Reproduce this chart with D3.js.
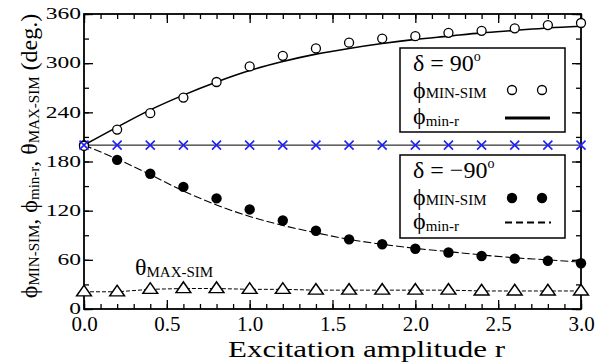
<!DOCTYPE html>
<html>
<head>
<meta charset="utf-8">
<script src="https://cdn.jsdelivr.net/npm/d3@7"></script>
<style>
  html, body { margin: 0; padding: 0; background: #fff; }
  svg { display: block; }
  text { font-family: "Liberation Serif", "Times New Roman", serif; fill: #000; }
</style>
</head>
<body>
<svg id="chart" width="608" height="364"></svg>
<script>
// Excitation amplitude r (sampled every 0.2)
const rValues = [0.0, 0.2, 0.4, 0.6, 0.8, 1.0, 1.2, 1.4, 1.6, 1.8, 2.0, 2.2, 2.4, 2.6, 2.8, 3.0];

// delta = 90 deg
const phiMinSimPos = [199, 219, 239, 258, 277, 296, 309, 318, 325, 330, 333, 337, 339.5, 342.5, 346.5, 349];
const phiMinRPos   = [200, 222, 243, 261, 277, 291, 302, 311, 318, 324, 329, 333, 337, 340, 343, 345];

// delta = -90 deg
const phiMinSimNeg = [200, 182, 165, 149, 135, 121.5, 108, 95.5, 85, 79, 73.5, 69, 64.7, 61.5, 58.8, 55.8];
const phiMinRNeg   = [200, 183, 164, 144, 127, 113, 102, 93, 85, 79, 74, 70, 66, 62.5, 60, 57];

// theta MAX-SIM
const thetaMaxSim  = [21, 21, 24, 25, 25, 24, 24, 23, 23, 23, 23, 23, 22, 22, 22, 22];

// reference crosses
const crossLevel = 200;

const xMajorTicks = [0, 0.5, 1.0, 1.5, 2.0, 2.5, 3.0];
const yMajorTicks = [0, 60, 120, 180, 240, 300, 360];

const PHI = "\u03D5";

const svg = d3.select("#chart");
const plotL = 84, plotR = 581, plotT = 14, plotB = 309;

const x = d3.scaleLinear().domain([0, 3]).range([plotL, plotR]);
const y = d3.scaleLinear().domain([0, 360]).range([plotB, plotT]);

const xMinor = d3.range(0, 31).map(d => d / 10);
const yMinor = d3.range(0, 13).map(d => d * 30);

// ---- axes with inward ticks ----
function styleAxis(g) {
  g.select(".domain").remove();
  g.selectAll(".tick line").attr("stroke", "#000").attr("stroke-width", 1.3);
}

svg.append("g").attr("transform", `translate(0,${plotB})`)
  .call(d3.axisBottom(x).tickValues(xMinor).tickSize(-5).tickFormat(""))
  .call(styleAxis);
svg.append("g").attr("transform", `translate(0,${plotB})`)
  .call(d3.axisBottom(x).tickValues(xMajorTicks).tickSize(-9).tickPadding(7).tickFormat(d3.format(".1f")))
  .call(styleAxis)
  .call(g => g.selectAll("text").attr("font-size", 21).attr("font-family", "Liberation Serif"));

svg.append("g").attr("transform", `translate(0,${plotT})`)
  .call(d3.axisTop(x).tickValues(xMinor).tickSize(-5).tickFormat(""))
  .call(styleAxis);
svg.append("g").attr("transform", `translate(0,${plotT})`)
  .call(d3.axisTop(x).tickValues(xMajorTicks).tickSize(-9).tickFormat(""))
  .call(styleAxis);

const ySx = 1.38;
svg.append("g").attr("transform", `translate(${plotL},0)`)
  .call(d3.axisLeft(y).tickValues(yMinor).tickSize(-5).tickFormat(""))
  .call(styleAxis);
svg.append("g").attr("transform", `translate(${plotL},0)`)
  .call(d3.axisLeft(y).tickValues(yMajorTicks).tickSize(-9).tickPadding(3).tickFormat(d3.format("d")))
  .call(styleAxis)
  .call(g => g.selectAll("text")
    .attr("font-size", 17).attr("font-family", "Liberation Serif")
    .attr("x", -3 / ySx).attr("dy", "0.28em")
    .attr("transform", `scale(${ySx},1)`));

svg.append("g").attr("transform", `translate(${plotR},0)`)
  .call(d3.axisRight(y).tickValues(yMinor).tickSize(-5).tickFormat(""))
  .call(styleAxis);
svg.append("g").attr("transform", `translate(${plotR},0)`)
  .call(d3.axisRight(y).tickValues(yMajorTicks).tickSize(-9).tickFormat(""))
  .call(styleAxis);

// plot frame
svg.append("rect")
  .attr("x", plotL).attr("y", plotT).attr("width", plotR - plotL).attr("height", plotB - plotT)
  .attr("fill", "none").attr("stroke", "#000").attr("stroke-width", 1.8);

// ---- data lines ----
const pts = vals => vals.map((v, i) => [rValues[i], v]);
const smooth = d3.line().x(d => x(d[0])).y(d => y(d[1])).curve(d3.curveMonotoneX);
const straight = d3.line().x(d => x(d[0])).y(d => y(d[1]));

// horizontal reference line through the crosses
svg.append("path")
  .attr("d", straight([[0, crossLevel], [3, crossLevel]]))
  .attr("stroke", "#000").attr("stroke-width", 1).attr("fill", "none");

svg.append("path")
  .attr("d", smooth(pts(phiMinRPos)))
  .attr("stroke", "#000").attr("stroke-width", 1.6).attr("fill", "none");

svg.append("path")
  .attr("d", smooth(pts(phiMinRNeg)))
  .attr("stroke", "#000").attr("stroke-width", 1.1).attr("fill", "none")
  .attr("stroke-dasharray", "8,3");

svg.append("path")
  .attr("d", straight(pts(thetaMaxSim)))
  .attr("stroke", "#000").attr("stroke-width", 1).attr("fill", "none")
  .attr("stroke-dasharray", "4,2");

// ---- markers ----
svg.append("g").selectAll("circle")
  .data(pts(phiMinSimNeg)).join("circle")
  .attr("cx", d => x(d[0])).attr("cy", d => y(d[1])).attr("r", 5.2)
  .attr("fill", "#000");

svg.append("g").selectAll("circle")
  .data(pts(phiMinSimPos)).join("circle")
  .attr("cx", d => x(d[0])).attr("cy", d => y(d[1])).attr("r", 4.5)
  .attr("fill", "#fff").attr("stroke", "#000").attr("stroke-width", 1.3);

const tri = d3.symbol().type(d3.symbolTriangle).size(72);
svg.append("g").selectAll("path")
  .data(pts(thetaMaxSim)).join("path")
  .attr("d", tri)
  .attr("transform", d => `translate(${x(d[0])},${y(d[1]) + 0.5}) scale(1.15,0.95)`)
  .attr("fill", "#fff").attr("stroke", "#000").attr("stroke-width", 1.4);

const cross = d3.symbol().type(d3.symbolX).size(55);
svg.append("g").selectAll("path")
  .data(rValues).join("path")
  .attr("d", cross)
  .attr("transform", d => `translate(${x(d)},${y(crossLevel)})`)
  .attr("fill", "none").attr("stroke", "#1f1fff").attr("stroke-width", 1.6);

// ---- text helpers ----
function label(parent, px, py, parts, opts = {}) {
  const t = parent.append("text")
    .attr("x", px).attr("y", py)
    .attr("text-anchor", opts.anchor || "start");
  if (opts.transform) t.attr("transform", opts.transform);
  parts.forEach(p => {
    const s = t.append("tspan").text(p.t).attr("font-size", p.size || 24);
    if (p.dy) s.attr("dy", p.dy);
  });
  return t;
}
const sub = (t, size = 15) => [{ t, size, dy: 2 }];
const back = (t, size = 24) => ({ t, size, dy: -2 });

// in-plot label for theta
label(svg, 135, 275, [{ t: "θ" }, ...sub("MAX-SIM")]);

// ---- legends ----
const leg = svg.append("g");
leg.append("rect").attr("x", 400).attr("y", 48).attr("width", 165).attr("height", 84)
  .attr("fill", "#fff").attr("stroke", "#000").attr("stroke-width", 1.5);
leg.append("rect").attr("x", 400).attr("y", 155).attr("width", 165).attr("height", 83)
  .attr("fill", "#fff").attr("stroke", "#000").attr("stroke-width", 1.5);

label(leg, 413, 71, [{ t: "δ = 90" }, { t: "o", size: 14, dy: -10 }]);
label(leg, 413, 98, [{ t: PHI }, { t: "MIN-SIM", size: 15 }]);
label(leg, 413, 124, [{ t: PHI }, ...sub("min-r")]);
leg.selectAll("circle.lp").data([512, 542]).join("circle").attr("class", "lp")
  .attr("cx", d => d).attr("cy", 90).attr("r", 4.5)
  .attr("fill", "#fff").attr("stroke", "#000").attr("stroke-width", 1.3);
leg.append("line").attr("x1", 505).attr("x2", 550).attr("y1", 118).attr("y2", 118)
  .attr("stroke", "#000").attr("stroke-width", 3);

label(leg, 413, 178, [{ t: "δ = −90" }, { t: "o", size: 14, dy: -10 }]);
label(leg, 413, 205, [{ t: PHI }, { t: "MIN-SIM", size: 15 }]);
label(leg, 413, 229, [{ t: PHI }, ...sub("min-r")]);
leg.selectAll("circle.ln").data([512, 542]).join("circle").attr("class", "ln")
  .attr("cx", d => d).attr("cy", 198).attr("r", 5.2).attr("fill", "#000");
leg.append("line").attr("x1", 505).attr("x2", 551).attr("y1", 222.5).attr("y2", 222.5)
  .attr("stroke", "#000").attr("stroke-width", 2).attr("stroke-dasharray", "7,4");

// ---- axis titles ----
svg.append("text")
  .attr("x", 228).attr("y", 357)
  .attr("font-size", 24)
  .attr("textLength", 277).attr("lengthAdjust", "spacingAndGlyphs")
  .text("Excitation amplitude r");

label(svg, 0, 0, [
  { t: PHI }, { t: "MIN-SIM", size: 15, dy: 2 }, back(", "),
  { t: PHI }, { t: "min-r", size: 15, dy: 2 }, back(", "),
  { t: "θ" }, { t: "MAX-SIM", size: 15, dy: 2 }, back(" (deg.)")
], { anchor: "middle", transform: "translate(37,156) rotate(-90)" });
</script>
</body>
</html>
